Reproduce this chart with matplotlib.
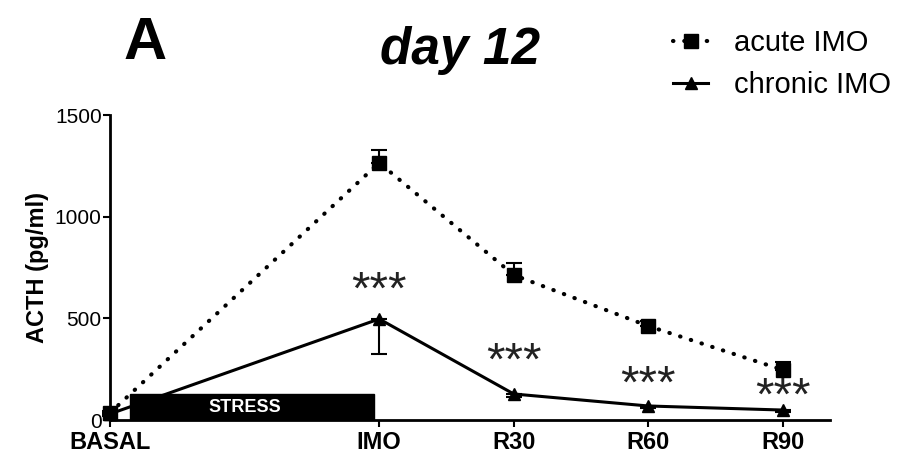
import numpy as np
import matplotlib.pyplot as plt
from matplotlib.patches import Rectangle
from matplotlib.transforms import offset_copy

plt.rcParams['font.family'] = ['Liberation Sans', 'DejaVu Sans']

# data
labels = ['BASAL', 'IMO', 'R30', 'R60', 'R90']
xpos = [0, 2, 3, 4, 5]
acute = [35, 1265, 713, 462, 246]
acute_err = [10, 65, 60, 25, 40]
chronic = [30, 497, 128, 69, 49]
chronic_err = [10, 172, 15, 10, 8]
stars_y = [679, 330, 216, 157]   # centre of the *** marks, IMO..R90

fig = plt.figure(figsize=(9.22, 4.61), dpi=100)
ax = fig.add_axes([0.1193, 0.0889, 0.781, 0.6616])

# stress bar
ax.add_patch(Rectangle((0.15, 0), 1.81, 128, color='black', zorder=1))
ax.text(1.0, 62, 'STRESS', color='white', fontsize=13, fontweight='bold',
        ha='center', va='center', zorder=2)

# acute: error bars upward only
ax.errorbar(xpos, acute, yerr=[np.zeros(5), acute_err], fmt='none', ecolor='black',
            elinewidth=1.5, capsize=6, capthick=1.5, clip_on=False, zorder=3)
ax.plot(xpos, acute, linestyle=(0, (0.1, 2.6)), dash_capstyle='round', color='black',
        linewidth=3, marker='s', markersize=10, clip_on=False, zorder=4, label='acute IMO')

# chronic: error bars downward only
ax.errorbar(xpos, chronic, yerr=[chronic_err, np.zeros(5)], fmt='none', ecolor='black',
            elinewidth=1.5, capsize=6, capthick=1.5, clip_on=False, zorder=3)
ax.plot(xpos, chronic, '-', color='black', linewidth=2.2, marker='^', markersize=9,
        clip_on=False, zorder=5, label='chronic IMO')

# asterisk glyph sits high in the em box, so drop the baseline
star_tr = offset_copy(ax.transData, fig=fig, y=-15.5, units='points')
for x, y in zip(xpos[1:], stars_y):
    ax.text(x, y, '***', fontsize=34, ha='center', va='baseline', color='#222222',
            transform=star_tr)

ax.set_xlim(0, 5.35)
ax.set_ylim(0, 1500)
ax.set_xticks(xpos)
ax.set_xticklabels(labels, fontsize=17, fontweight='bold')
ax.set_yticks([0, 500, 1000, 1500])
ax.tick_params(axis='y', labelsize=15, length=5, width=1.5, pad=1)
ax.tick_params(axis='x', length=5, width=1.5, pad=3)
ax.set_ylabel('ACTH (pg/ml)', fontsize=17, fontweight='bold', labelpad=4)
for s in ['top', 'right']:
    ax.spines[s].set_visible(False)
for s in ['left', 'bottom']:
    ax.spines[s].set_linewidth(2)

fig.text(0.157, 0.905, 'A', fontsize=43, fontweight='bold', ha='center', va='center')
fig.text(0.499, 0.89, 'day 12', fontsize=37, fontweight='bold', style='italic',
         ha='center', va='center')

fig.legend(loc='upper left', bbox_to_anchor=(0.708, 0.982), frameon=False, fontsize=21,
           handlelength=1.2, handletextpad=0.9, labelspacing=0.5, borderaxespad=0.3)

fig.savefig('out.png', dpi=100)
